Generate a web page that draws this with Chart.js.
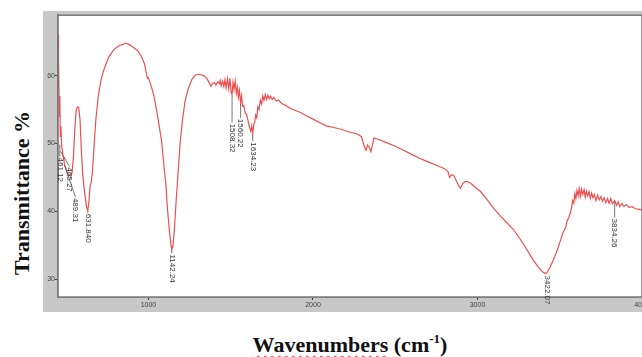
<!DOCTYPE html>
<html>
<head>
<meta charset="utf-8">
<script src="https://cdn.jsdelivr.net/npm/chart.js@4/dist/chart.umd.min.js"></script>
<style>
    html, body { margin: 0; padding: 0; background: #fff; overflow: hidden; width: 642px; height: 357px; }
    #wrap { position: absolute; left: 43px; top: 11px; width: 621px; height: 301px; background: #c8c8c8; }
    .ytitle {
        position: absolute; left: 22px; top: 193px; white-space: nowrap;
        transform: translate(-50%, -50%) rotate(-90deg);
        font: bold 22px "Liberation Serif", "Times New Roman", serif; color: #111;
    }
    .xtitle {
        position: absolute; left: 350px; top: 345px; white-space: nowrap;
        transform: translate(-50%, -50%);
        font: bold 22px "Liberation Serif", "Times New Roman", serif; color: #111;
    }
    .xtitle .sq { text-decoration: underline wavy #d22; text-decoration-thickness: 1px; text-underline-offset: 3px; }
    .xtitle sup { font-size: 13px; vertical-align: 9px; line-height: 0; }
</style>
</head>
<body>
<div id="wrap"><canvas id="ftir"></canvas></div>
<div class="ytitle">Transmittance %</div>
<div class="xtitle"><span class="sq">Wavenumbers</span> (cm<sup>-1</sup>)</div>

<script>
// spectrum
const wavenumbers = [
    450, 452, 455, 458, 461, 464, 468, 472, 477, 481, 486, 490, 496, 502, 510, 520, 528, 536, 544, 552,
    560, 568, 576, 584, 592, 600, 608, 616, 624, 631, 638, 645, 652, 660, 670, 680, 695, 710, 725, 740,
    760, 788, 820, 845, 861, 880, 905, 933, 955, 975, 990, 994, 998, 1005, 1020, 1035, 1050, 1065, 1080, 1095,
    1105, 1115, 1127, 1137, 1142, 1148, 1158, 1168, 1178, 1192, 1206, 1222, 1242, 1265, 1285, 1310, 1335, 1355, 1370, 1380,
    1390, 1400, 1410, 1420, 1430, 1436, 1442, 1450, 1458, 1465, 1472, 1480, 1488, 1495, 1502, 1508, 1514, 1520, 1527, 1534,
    1540, 1547, 1553, 1560, 1566, 1572, 1580, 1588, 1596, 1605, 1614, 1622, 1628, 1634, 1640, 1646, 1652, 1658, 1665, 1672,
    1680, 1688, 1695, 1702, 1710, 1718, 1726, 1734, 1742, 1752, 1762, 1775, 1790, 1810, 1835, 1860, 1890, 1920, 1960, 2000,
    2040, 2080, 2120, 2170, 2220, 2270, 2295, 2310, 2322, 2332, 2342, 2352, 2362, 2370, 2400, 2450, 2500, 2550, 2600, 2650,
    2700, 2750, 2800, 2820, 2830, 2842, 2855, 2870, 2885, 2897, 2910, 2925, 2940, 2960, 2990, 3020, 3060, 3100, 3140, 3180,
    3220, 3260, 3300, 3340, 3370, 3395, 3410, 3422, 3440, 3460, 3480, 3500, 3520, 3535, 3545, 3555, 3565, 3572, 3578, 3585,
    3592, 3598, 3605, 3612, 3618, 3625, 3632, 3640, 3648, 3655, 3662, 3670, 3678, 3686, 3694, 3702, 3710, 3720, 3730, 3740,
    3750, 3760, 3770, 3780, 3790, 3800, 3810, 3820, 3834, 3845, 3855, 3865, 3878, 3890, 3905, 3920, 3940, 3960, 3985, 4000
];
const transmittance = [
    66.0, 58.0, 62.0, 54.0, 57.0, 51.0, 52.5, 49.5, 49.0, 48.0, 47.5, 46.8, 46.5, 46.0, 45.6, 45.3, 45.2, 45.8, 48.0, 52.0,
    54.8, 55.4, 55.3, 53.5, 49.0, 45.5, 43.5, 42.0, 40.6, 40.1, 41.5, 43.8, 44.3, 46.0, 50.0, 53.5, 57.0, 59.2, 60.6, 61.6,
    62.8, 63.8, 64.4, 64.6, 64.8, 64.6, 64.2, 63.7, 62.9, 61.8, 60.0, 59.6, 59.7, 59.3, 58.2, 56.8, 54.8, 52.6, 50.3, 46.5,
    44.2, 40.5, 37.2, 35.0, 34.4, 34.8, 37.5, 41.5, 45.0, 50.0, 53.3, 56.2, 58.1, 59.5, 60.1, 60.2, 60.0, 59.6, 58.9, 58.4,
    58.9, 59.0, 58.6, 59.1, 58.8, 59.3, 58.5, 59.2, 58.4, 59.4, 58.2, 59.5, 58.1, 59.6, 57.6, 57.2, 59.0, 58.0, 59.2, 57.4,
    58.3, 56.8, 57.8, 56.0, 57.0, 55.5, 55.6, 54.5, 54.3, 53.4, 52.4, 51.8, 52.6, 51.5, 52.8, 53.2, 54.2, 53.8, 55.4, 55.0,
    56.4, 55.8, 57.0, 56.4, 57.2, 56.5, 57.1, 56.6, 57.0, 56.5, 56.8, 56.3, 56.4, 55.9, 55.6, 55.2, 54.9, 54.6, 54.1, 53.6,
    53.1, 52.6, 52.4, 52.1, 51.7, 51.4, 51.0, 49.7, 49.0, 49.8, 49.5, 48.8, 49.8, 50.8, 50.6, 50.1, 49.6, 49.0, 48.4, 47.8,
    47.3, 46.8, 46.3, 45.9, 45.0, 45.4, 45.3, 44.6, 43.8, 43.4, 44.1, 44.4, 44.4, 44.1, 43.5, 42.9, 41.7, 40.4, 39.3, 38.3,
    37.3, 35.9, 34.4, 32.8, 31.8, 31.1, 30.9, 31.0, 31.7, 32.8, 34.0, 35.4, 36.9, 37.6, 38.6, 39.1, 39.8, 40.6, 41.6, 41.2,
    42.6, 41.9, 43.1, 42.3, 43.4, 42.2, 43.3, 42.5, 43.2, 42.1, 43.0, 42.3, 42.9, 41.9, 42.7, 42.0, 42.5, 41.6, 42.4, 41.7,
    42.2, 41.5, 42.0, 41.3, 41.9, 41.2, 41.9, 41.1, 41.6, 40.9, 41.4, 40.7, 41.2, 40.7, 41.0, 40.6, 40.7, 40.4, 40.3, 40.2
];

// peak annotations
const peakLabels = ["461.12", "465.27", "489.31", "631.840", "1142.24", "1508.32", "1560.22", "1634.23", "3422.07", "3834.26"];
const peakWn = [461, 465, 489, 631, 1142, 1508, 1560, 1634, 3422, 3834];
const peakT = [50.0, 49.0, 47.0, 40.1, 34.4, 57.2, 56.0, 51.5, 31.0, 41.6];

const xTicks = [1000, 2000, 3000, 4000];
const yTicks = [30, 40, 50, 60];

// leader offsets (pixels) for each annotation, same order as peakLabels
const leaderStyle = [
    { dx: 0, lead: 13 }, { dx: 9, lead: 16 }, { dx: 11, lead: 33 }, { dx: 0, lead: 2 },
    { dx: 0, lead: 4 }, { dx: 0, lead: 28 }, { dx: 0, lead: 15 }, { dx: 0, lead: 8 },
    { dx: 0, lead: 2 }, { dx: 0, lead: 17 }
];

const plotFrame = {
    id: "plotFrame",
    beforeDatasetsDraw(chart) {
        const { ctx, chartArea: a } = chart;
        ctx.save();
        ctx.fillStyle = "#fff";
        ctx.fillRect(a.left, a.top, a.right - a.left, a.bottom - a.top);
        ctx.restore();
    },
    afterDraw(chart) {
        const { ctx, chartArea: a, scales } = chart;
        ctx.save();
        ctx.strokeStyle = "#777";
        ctx.lineWidth = 1.5;
        ctx.strokeRect(a.left, a.top, a.right - a.left, a.bottom - a.top);

        // peak labels
        ctx.font = "8px 'Liberation Sans', Arial, sans-serif";
        ctx.fillStyle = "#333";
        ctx.strokeStyle = "#555";
        ctx.lineWidth = 0.8;
        ctx.textBaseline = "middle";
        ctx.textAlign = "left";
        peakLabels.forEach((txt, i) => {
            const px = scales.x.getPixelForValue(peakWn[i]);
            const py = scales.y.getPixelForValue(peakT[i]);
            const s = leaderStyle[i];
            ctx.beginPath();
            ctx.moveTo(px, py + 1);
            ctx.lineTo(px + s.dx, py + s.lead);
            ctx.stroke();
            ctx.save();
            ctx.translate(px + s.dx, py + s.lead + 1);
            ctx.rotate(Math.PI / 2);
            ctx.fillText(txt, 0, 0);
            ctx.restore();
        });
        ctx.restore();
    }
};

const tickFont = { size: 7, family: "'Liberation Sans', Arial, sans-serif" };

const ftirChart = new Chart(document.getElementById("ftir"), {
    type: "line",
    data: {
        datasets: [
            {
                label: "FTIR",
                data: wavenumbers.map((w, i) => ({ x: w, y: transmittance[i] })),
                borderColor: "rgb(238, 78, 78)",
                borderWidth: 1.2,
                pointRadius: 0,
                tension: 0,
                fill: false,
            },
        ],
    },
    options: {
        responsive: true,
        maintainAspectRatio: false,
        animation: false,
        layout: { padding: { top: 2, right: 22, left: 0, bottom: 0 } },
        plugins: {
            legend: { display: false },
            tooltip: { enabled: false },
        },
        scales: {
            x: {
                type: "linear",
                min: 450,
                max: 4000,
                afterBuildTicks: (axis) => { axis.ticks = xTicks.map((v) => ({ value: v })); },
                afterFit: (axis) => { axis.height = 15; },
                grid: { drawOnChartArea: false, drawTicks: true, tickLength: 3, color: "#444" },
                border: { display: true, color: "#777", width: 1.5 },
                ticks: { maxRotation: 0, padding: 1, color: "#444", font: tickFont, callback: (v) => String(v) },
            },
            y: {
                min: 27.4,
                max: 68.9,
                afterBuildTicks: (axis) => { axis.ticks = yTicks.map((v) => ({ value: v })); },
                afterFit: (axis) => { axis.width = 15; },
                grid: { drawOnChartArea: false, drawTicks: true, tickLength: 3, color: "#444" },
                border: { display: true, color: "#777", width: 1.5 },
                ticks: { padding: 0, color: "#444", font: tickFont, callback: (v) => String(v) },
            },
        },
    },
    plugins: [plotFrame],
});
</script>
</body>
</html>
